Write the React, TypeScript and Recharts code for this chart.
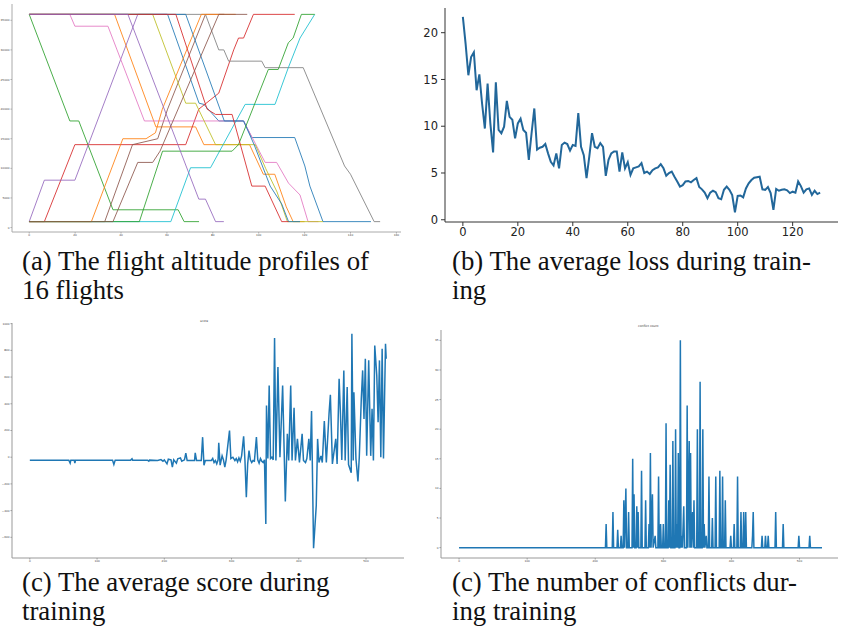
import React from "react";
import { LineChart, Line, XAxis, YAxis } from "recharts";

// ---------- (a) flight altitude profiles: [time, altitude] vertices ----------
const flightTimeTicks = [0, 20, 40, 60, 80, 100, 120, 140, 160];
const altitudeTicks = [0, 5000, 10000, 15000, 20000, 25000, 30000, 35000];

const flight01 = [[0, 36000], [60.3, 36000], [74, 21000], [76.1, 20800], [82.6, 18000], [93.4, 18000], [97, 15200], [115.7, 15200], [120.1, 10400], [122.3, 7000], [128, 1000], [148.9, 1000]];
const flight02 = [[0, 36000], [37.2, 36000], [55.2, 17000], [72.5, 17000], [76.1, 14000], [96, 14000], [102, 9000], [107, 9000], [112, 3500], [115, 1000], [120, 1000]];
const flight03 = [[0, 36000], [17.7, 18000], [21.6, 18000], [36.5, 3000], [64.9, 3000], [67.5, 1000], [74, 1000]];
const flight04 = [[0, 1000], [6.6, 1000], [19.9, 14000], [68.2, 14000], [73.9, 20000], [82.6, 22700], [89.1, 30000], [91.2, 32000], [93.4, 32000], [97.7, 36000], [115.7, 36000]];
const flight05 = [[0, 1000], [6.6, 8000], [19.9, 8000], [47.3, 36000], [60, 36000]];
const flight06 = [[0, 1000], [32.9, 1000], [45, 14000], [56, 15000], [60.3, 20000], [76.8, 36000], [85, 36000]];
const flight07 = [[0, 36000], [17.7, 36000], [19.9, 34000], [34.3, 34000], [50.2, 18000], [93.4, 18000], [102.8, 11000], [107.8, 11000], [113, 7500], [118, 5500], [121.5, 1000], [126, 1000]];
const flight08 = [[0, 36000], [76.8, 36000], [82.6, 30000], [84.8, 30000], [86.9, 28100], [101.3, 28100], [102.8, 27000], [119.4, 27000], [137.4, 10400], [140, 9000], [150.3, 1000], [152.9, 1000]];
const flight09 = [[0, 36000], [53.8, 36000], [68.2, 21000], [72.5, 21000], [81.2, 14000], [98.5, 14000], [103, 10000], [108, 6000], [112.5, 1000], [128, 1000]];
const flight10 = [[0, 1000], [61.7, 1000], [70.3, 10100], [79, 10100], [94.1, 20800], [107.1, 20800], [112.9, 27000], [118, 32000], [124.4, 36000]];
const flight11 = [[0, 36000], [68.2, 36000], [85, 18000], [93.4, 18000], [98, 14000], [105, 7000], [110, 4000], [113, 1000], [118, 1000]];
const flight12 = [[0, 1000], [27.1, 1000], [40.8, 15000], [50.9, 15000], [55, 16000], [58, 20000], [75, 36000], [90, 36000]];
const flight13 = [[0, 1000], [48, 1000], [58.1, 12900], [88.4, 12900], [91.2, 14000], [104.2, 26700], [108.5, 26700], [112.9, 31200], [115, 32000], [118.6, 36000], [124.4, 36000]];
const flight14 = [[0, 36000], [63.9, 36000], [77.5, 20000], [81.2, 19100], [88.4, 19100], [97, 7000], [102.8, 7000], [110, 1000], [113, 1000]];
const flight15 = [[0, 36000], [43, 36000], [73.9, 4800], [76.8, 4800], [81.2, 1000], [84.8, 1000]];
const flight16 = [[0, 1000], [36.5, 1000], [47.3, 11000], [53.8, 11000], [57, 12900], [82.6, 36000], [95, 36000]];

const flights = [flight01, flight02, flight03, flight04, flight05, flight06, flight07, flight08, flight09, flight10, flight11, flight12, flight13, flight14, flight15, flight16];
const flightColors = ["#1f77b4", "#ff7f0e", "#2ca02c", "#d62728", "#9467bd", "#8c564b", "#e377c2", "#7f7f7f", "#bcbd22", "#17becf", "#1f77b4", "#ff7f0e", "#2ca02c", "#d62728", "#9467bd", "#8c564b"];

// ---------- (b) average loss ----------
const lossEpisodeTicks = [0, 20, 40, 60, 80, 100, 120];
const lossTicks = [0, 5, 10, 15, 20];
const lossValues = [
  21.7, 18.8, 15.45, 17.4, 17.9, 13.85, 15.55, 12.4, 9.75, 14.55,
  10.3, 7.2, 14.7, 9.6, 9.25, 9.95, 12.7, 11.0, 10.7, 8.7,
  10.3, 10.8, 9.6, 9.3, 6.4, 9.25, 11.9, 7.5, 7.7, 7.8,
  8.1, 7.1, 6.2, 5.8, 7.1, 5.5, 8.0, 8.25, 8.1, 7.4,
  8.0, 7.9, 11.4, 7.8, 6.9, 4.45, 6.75, 9.25, 7.8, 7.65,
  8.2, 7.8, 4.7, 6.4, 7.1, 7.3, 7.3, 5.15, 7.2, 5.5,
  6.15, 4.8, 5.5, 5.6, 5.7, 6.05, 5.0, 5.15, 4.9, 5.3,
  5.5, 5.6, 5.95, 5.5, 4.7, 5.0, 5.15, 4.6, 4.1, 3.55,
  3.7, 4.1, 4.15, 4.0, 4.25, 4.45, 3.5, 3.25, 2.9, 2.3,
  2.9, 3.1, 2.95, 2.3, 2.2, 3.2, 3.55, 3.2, 2.65, 0.8,
  2.55, 2.6, 2.4, 3.35, 3.9, 4.25, 4.5, 4.55, 4.6, 3.25,
  3.2, 3.5, 2.85, 1.05, 3.3, 3.1, 3.2, 3.25, 3.15, 2.85,
  3.0, 2.9, 4.1, 3.6, 2.9, 3.25, 3.35, 2.65, 3.1, 2.75,
  2.9,
];

// ---------- (c) average score: [episode, score] vertices ----------
const scoreEpisodeTicks = [0, 100, 200, 300, 400, 500];
const scoreTicks = [-600, -400, -200, 0, 200, 400, 600, 800, 1000];
const scoreVertices = [
  [0, -22], [58, -22], [60, -45], [61, -22], [66, -22], [67, -45], [68, -22], [123, -22], [125, -55], [127, -22],
  [150, -22], [152, -12], [153, -22], [175, -22], [177, -30], [178, -22], [190, -25], [195, -18], [198, -30], [200, -20],
  [204, -50], [206, -15], [210, -20], [212, -75], [214, -20], [218, -45], [220, -12], [224, -5], [226, -30], [230, -20],
  [232, 30], [234, -25], [245, -25], [246, 32], [248, -25], [255, -25], [257, 150], [259, -60], [261, -25], [270, -25],
  [272, -10], [274, -40], [276, -25], [278, -50], [280, -20], [281, 107], [283, -60], [286, 10], [288, -20], [290, -75],
  [292, -20], [297, 200], [299, -10], [302, 0], [305, -25], [307, -10], [309, -35], [311, -5], [313, -30], [315, 10],
  [318, 157], [320, -30], [322, -300], [324, -50], [326, 50], [328, -20], [330, -40], [332, -25], [334, -30], [337, 150],
  [339, -20], [341, -45], [343, -10], [345, -30], [347, -40], [349, -20], [351, -500], [352, 387], [354, -10], [356, 537],
  [358, -10], [360, 0], [362, -20], [364, 892], [366, -25], [369, 675], [372, 0], [376, 537], [380, -332], [383, 175],
  [385, -25], [388, 537], [390, -25], [393, 370], [395, -25], [398, 137], [401, -40], [405, 175], [407, -25], [410, -40],
  [412, -10], [415, 137], [417, -25], [419, 345], [422, -682], [426, -362], [428, 137], [430, -40], [433, 10], [435, -40],
  [438, 270], [441, -40], [445, 325], [447, 467], [450, -50], [455, 137], [457, -50], [460, 587], [462, 325], [464, -20],
  [467, 650], [469, -25], [472, 525], [474, -55], [478, -117], [479, 925], [481, -25], [482, 487], [485, -10], [488, -182],
  [490, 0], [493, 437], [495, 650], [497, 287], [499, 737], [501, 10], [504, 725], [507, 10], [509, 362], [511, -25],
  [513, 837], [516, 612], [518, 262], [520, 725], [522, 0], [524, 812], [526, -10], [529, 850], [530, 737],
];

// ---------- (d) number of conflicts: [episode, count] vertices ----------
const conflictEpisodeTicks = [0, 100, 200, 300, 400, 500];
const conflictTicks = [0, 5, 10, 15, 20, 25, 30, 35];
const conflictVertices = [
  [0, 0], [215, 0], [216, 4], [217, 0], [225, 0], [226, 6], [227, 0], [232, 0], [233, 3], [234, 0],
  [237, 0], [238, 2], [239, 0], [241, 0], [242, 8], [243, 0], [245, 10], [246, 0], [248, 0], [249, 6],
  [250, 0], [254, 0], [255, 15], [256, 0], [257, 9], [258, 0], [260, 0], [261, 7], [262, 0], [263, 6],
  [264, 0], [267, 0], [268, 13], [269, 0], [273, 0], [274, 8], [275, 0], [278, 0], [279, 4], [280, 0],
  [281, 16], [282, 0], [284, 9], [285, 0], [288, 2], [289, 0], [292, 0], [293, 12], [294, 0], [295, 0],
  [296, 4], [297, 0], [299, 0], [300, 4], [301, 0], [303, 0], [304, 21], [305, 0], [307, 0], [308, 8],
  [309, 0], [310, 14], [311, 0], [313, 0], [314, 18], [315, 0], [317, 0], [318, 20], [319, 0], [320, 4],
  [321, 0], [322, 16], [323, 0], [324, 0], [325, 35], [326, 0], [327, 2], [328, 0], [330, 7], [331, 0],
  [334, 0], [335, 24], [336, 0], [338, 18], [339, 0], [340, 16], [341, 0], [343, 6], [344, 0], [345, 8],
  [346, 0], [349, 0], [350, 20], [351, 0], [353, 0], [354, 28], [355, 0], [357, 0], [358, 20], [359, 0],
  [360, 4], [361, 0], [363, 2], [364, 0], [366, 0], [367, 12], [368, 0], [371, 0], [372, 5], [373, 0],
  [376, 0], [377, 12], [378, 0], [382, 0], [383, 13], [384, 0], [386, 0], [387, 12], [388, 0], [390, 0],
  [391, 8], [392, 0], [398, 0], [399, 2], [400, 0], [403, 0], [404, 4], [405, 0], [408, 0], [409, 12],
  [410, 0], [413, 0], [414, 6], [415, 0], [417, 0], [418, 6], [419, 0], [420, 0], [421, 6], [422, 0],
  [430, 0], [431, 2], [432, 6], [433, 0], [444, 0], [445, 2], [446, 0], [449, 0], [450, 2], [451, 0],
  [453, 0], [454, 2], [455, 0], [464, 0], [465, 6], [466, 0], [475, 0], [476, 4], [477, 0], [498, 0],
  [499, 2], [500, 0], [514, 0], [515, 2], [516, 0], [533, 0],
];

// ---------- captions ----------
const captionA = ["(a) The flight altitude profiles of", "16 flights"];
const captionB = ["(b) The average loss during train-", "ing"];
const captionC = ["(c) The average score during", "training"];
const captionD = ["(c) The number of conflicts dur-", "ing training"];

const pts = (arr: number[][]) => arr.map(([x, y]) => ({ x, y }));
const lossData = lossValues.map((y, x) => ({ x, y }));
const fmt = (v: number) => (v < 0 ? "\u2212" + Math.abs(v) : String(v));

const AXIS_FONT = "'DejaVu Sans', sans-serif";

function frame(xDomain: number[], yDomain: number[], stroke: string, sw: number) {
  return [
    <XAxis key="ft" xAxisId="top" orientation="top" type="number" domain={xDomain} allowDataOverflow tick={false} tickLine={false} height={0} axisLine={{ stroke, strokeWidth: sw }} />,
    <YAxis key="fr" yAxisId="right" orientation="right" type="number" domain={yDomain} allowDataOverflow tick={false} tickLine={false} width={0} axisLine={{ stroke, strokeWidth: sw }} />,
  ];
}

function Caption({ lines, left, top }: { lines: string[]; left: number; top: number }) {
  return (
    <div
      style={{
        position: "absolute",
        left,
        top,
        fontFamily: "'Liberation Serif', 'Times New Roman', Times, serif",
        fontSize: 26.8,
        lineHeight: "29px",
        color: "#111",
        whiteSpace: "nowrap",
      }}
    >
      {lines.map((l, i) => (
        <div key={i}>{l}</div>
      ))}
    </div>
  );
}

export default function App() {
  const smallTick = { fontSize: 2.8, fill: "#444", fontFamily: AXIS_FONT };
  const aX = [-7.5, 162];
  const aY = [-750, 37750];
  const bX = [-6.5, 136.5];
  const bY = [-0.24, 22.64];
  const cX = [-26.5, 556.5];
  const cY = [-755, 1005];
  const dX = [-26.5, 556.5];
  const dY = [-1.75, 36.75];
  return (
    <div style={{ position: "absolute", left: 0, top: 0, width: 845, height: 634, background: "#fff", overflow: "hidden" }}>
      {/* (a) */}
      <div style={{ position: "absolute", left: 0, top: 0 }}>
        <LineChart width={410} height={245} margin={{ top: 4, right: 9, left: 0, bottom: 0 }}>
          <XAxis dataKey="x" type="number" domain={aX} allowDataOverflow ticks={flightTimeTicks} height={13} tick={smallTick} tickSize={1.5} tickMargin={1} stroke="#aaa" tickFormatter={fmt} />
          <YAxis type="number" domain={aY} allowDataOverflow ticks={altitudeTicks} width={12} tick={smallTick} tickSize={1.5} tickMargin={1} stroke="#aaa" tickFormatter={fmt} />
          {frame(aX, aY, "#aaa", 1)}
          {flights.map((f, i) => (
            <Line key={i} data={pts(f)} dataKey="y" type="linear" dot={false} stroke={flightColors[i]} strokeWidth={1} strokeOpacity={0.85} isAnimationActive={false} />
          ))}
        </LineChart>
      </div>

      {/* (b) */}
      <div style={{ position: "absolute", left: 420, top: 0 }}>
        <LineChart width={425} height={245} margin={{ top: 8, right: 7, left: 0, bottom: 0 }}>
          <XAxis dataKey="x" type="number" domain={bX} allowDataOverflow ticks={lossEpisodeTicks} height={23} tick={{ fontSize: 11.5, fill: "#222", fontFamily: AXIS_FONT }} tickSize={4} tickMargin={2} stroke="#333" />
          <YAxis type="number" domain={bY} allowDataOverflow ticks={lossTicks} width={25} tick={{ fontSize: 11.5, fill: "#222", fontFamily: AXIS_FONT }} tickSize={4} tickMargin={3} stroke="#333" />
          {frame(bX, bY, "#333", 1)}
          <Line data={lossData} dataKey="y" type="linear" dot={false} stroke="#22679a" strokeWidth={2} isAnimationActive={false} />
        </LineChart>
      </div>

      {/* (c) */}
      <div style={{ position: "absolute", left: 0, top: 310 }}>
        <LineChart width={410} height={262} margin={{ top: 13, right: 6, left: 0, bottom: 0 }}>
          <XAxis dataKey="x" type="number" domain={cX} allowDataOverflow ticks={scoreEpisodeTicks} height={14} tick={smallTick} tickSize={1.5} tickMargin={1} stroke="#999" />
          <YAxis type="number" domain={cY} allowDataOverflow ticks={scoreTicks} width={12} tick={smallTick} tickSize={1.5} tickMargin={1} stroke="#999" tickFormatter={fmt} />
          {frame(cX, cY, "#999", 1)}
          <Line data={pts(scoreVertices)} dataKey="y" type="linear" dot={false} stroke="#1f77b4" strokeWidth={1.5} isAnimationActive={false} />
        </LineChart>
        <div style={{ position: "absolute", left: 200, top: 9, fontSize: 3, fontFamily: AXIS_FONT, color: "#333" }}>score</div>
      </div>

      {/* (d) */}
      <div style={{ position: "absolute", left: 420, top: 310 }}>
        <LineChart width={425} height={262} margin={{ top: 20, right: 7, left: 0, bottom: 0 }}>
          <XAxis dataKey="x" type="number" domain={dX} allowDataOverflow ticks={conflictEpisodeTicks} height={14} tick={smallTick} tickSize={1.5} tickMargin={1} stroke="#999" />
          <YAxis type="number" domain={dY} allowDataOverflow ticks={conflictTicks} width={21} tick={smallTick} tickSize={1.5} tickMargin={1} stroke="#999" />
          {frame(dX, dY, "#999", 1)}
          <Line data={pts(conflictVertices)} dataKey="y" type="linear" dot={false} stroke="#1f77b4" strokeWidth={1.5} isAnimationActive={false} />
        </LineChart>
        <div style={{ position: "absolute", left: 218, top: 14, fontSize: 3, fontFamily: AXIS_FONT, color: "#333" }}>conflict count</div>
      </div>

      <Caption lines={captionA} left={22} top={247} />
      <Caption lines={captionB} left={452} top={247} />
      <Caption lines={captionC} left={22} top={568} />
      <Caption lines={captionD} left={452} top={568} />
    </div>
  );
}
